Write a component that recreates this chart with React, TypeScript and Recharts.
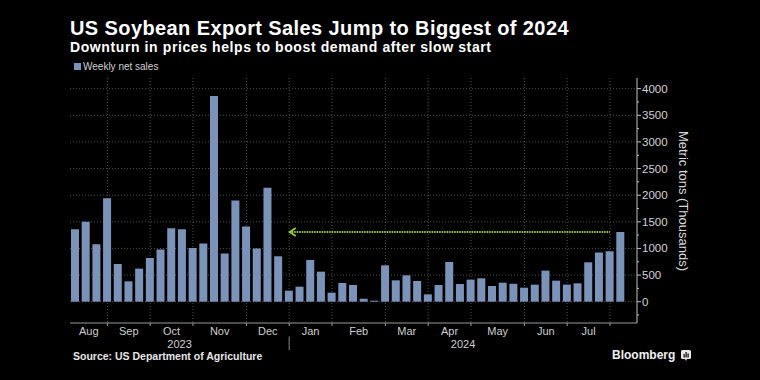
import React from "react";
import { Bar, BarChart, CartesianGrid, ReferenceDot, ReferenceLine, XAxis, YAxis } from "recharts";

// week ending dates, Aug 2023 - Aug 2024
const weeks = [
  "Aug 17", "Aug 24", "Aug 31", "Sep 7", "Sep 14", "Sep 21", "Sep 28",
  "Oct 5", "Oct 12", "Oct 19", "Oct 26", "Nov 2", "Nov 9", "Nov 16", "Nov 23", "Nov 30",
  "Dec 7", "Dec 14", "Dec 21", "Dec 28", "Jan 4", "Jan 11", "Jan 18", "Jan 25",
  "Feb 1", "Feb 8", "Feb 15", "Feb 22", "Feb 29", "Mar 7", "Mar 14", "Mar 21", "Mar 28",
  "Apr 4", "Apr 11", "Apr 18", "Apr 25", "May 2", "May 9", "May 16", "May 23", "May 30",
  "Jun 6", "Jun 13", "Jun 20", "Jun 27", "Jul 4", "Jul 11", "Jul 18", "Jul 25", "Aug 1", "Aug 8",
];

// weekly net sales, thousand metric tons
const netSales = [
  1360, 1500, 1078, 1944, 708, 382, 621, 821, 978, 1379, 1360, 1009, 1091, 3862, 903, 1900,
  1411, 997, 2138, 853, 207, 282, 784, 564, 169, 351, 313, 56, 19, 683, 401, 495, 389, 138,
  313, 746, 332, 414, 439, 295, 357, 339, 263, 320, 583, 395, 320, 345, 740, 922, 947, 1310,
];

// first week of each month -> label of the month that ends there
const monthStarts = ["Sep 7", "Oct 5", "Nov 2", "Dec 7", "Jan 4", "Feb 1", "Mar 7", "Apr 4", "May 2", "Jun 6", "Jul 4", "Aug 1"];
const monthNames = ["Aug", "Sep", "Oct", "Nov", "Dec", "Jan", "Feb", "Mar", "Apr", "May", "Jun", "Jul"];
const yearNames = ["2023", "2024"];

const yTicks = [-250, 0, 250, 500, 750, 1000, 1250, 1500, 1750, 2000, 2250, 2500, 2750, 3000, 3250, 3500, 3750, 4000];
const gridValues = [0, 500, 1000, 1500, 2000, 2500, 3000, 3500, 4000];

// latest week, arrow back to start of 2024
const latestLevel = 1310;
const arrowFrom = "Jan 4";
const arrowTo = "Aug 1";

const data = weeks.map((w, i) => ({ week: w, sales: netSales[i] }));

const BAR = "#7b93b9";
const GREEN = "#9acd32";
const FONT = "'Liberation Sans', Arial, sans-serif";
const PLOT_L = 70;
const PLOT_R = 637;
const BAND = (PLOT_R - PLOT_L - 11) / weeks.length;

function MonthTick(props: any) {
  const { x, y, payload } = props;
  const i = monthStarts.indexOf(payload.value);
  const idx = weeks.indexOf(payload.value);
  const prev = i <= 0 ? -0.5 : weeks.indexOf(monthStarts[i - 1]);
  const band = payload.offset ? payload.offset * 2 : BAND;
  const lx = x - ((idx - prev) / 2) * band;
  const yearSplit = payload.value === arrowFrom;
  return (
    <g>
      <line x1={x} x2={x} y1={y} y2={y + 3} stroke="#9a9a9a" />
      <text x={lx} y={y + 11.5} textAnchor="middle" fill="#cfcfcf" fontSize={11} fontFamily={FONT}>
        {monthNames[i]}
      </text>
      {yearSplit && (
        <>
          <line x1={x} x2={x} y1={y + 13.5} y2={y + 27} stroke="#8a8a8a" />
          <text x={(PLOT_L + x) / 2} y={y + 24.5} textAnchor="middle" fill="#cfcfcf" fontSize={11} fontFamily={FONT}>
            {yearNames[0]}
          </text>
          <text x={(x + PLOT_R) / 2} y={y + 24.5} textAnchor="middle" fill="#cfcfcf" fontSize={11} fontFamily={FONT}>
            {yearNames[1]}
          </text>
        </>
      )}
    </g>
  );
}

function TonTick(props: any) {
  const { x, y, payload } = props;
  const major = payload.value % 500 === 0;
  return (
    <g>
      <line x1={x} x2={x + (major ? 4 : 2)} y1={y} y2={y} stroke="#c4c4c4" />
      {major && (
        <text x={x + 5} y={y + 4} fill="#d4d4d4" fontSize={11.5} fontFamily={FONT}>
          {payload.value}
        </text>
      )}
    </g>
  );
}

function ArrowHead(p: any) {
  return (
    <path
      d={`M${p.cx + 6.5},${p.cy - 4} L${p.cx + 0.5},${p.cy} L${p.cx + 6.5},${p.cy + 4}`}
      fill="none"
      stroke={GREEN}
      strokeWidth={1.8}
    />
  );
}

export default function App() {
  return (
    <div
      style={{
        position: "absolute",
        left: 0,
        top: 0,
        width: 760,
        height: 380,
        background: "#000",
        overflow: "hidden",
        fontFamily: FONT,
        color: "#fff",
      }}
    >
      <div
        style={{
          position: "absolute",
          left: 70,
          top: 18,
          height: 20,
          lineHeight: "20px",
          fontSize: 20,
          letterSpacing: 0.4,
          fontWeight: 700,
          whiteSpace: "nowrap",
        }}
      >
        US Soybean Export Sales Jump to Biggest of 2024
      </div>
      <div
        style={{
          position: "absolute",
          left: 70,
          top: 39.8,
          height: 14,
          lineHeight: "14px",
          fontSize: 14,
          letterSpacing: 0.6,
          fontWeight: 700,
          whiteSpace: "nowrap",
        }}
      >
        Downturn in prices helps to boost demand after slow start
      </div>
      <div style={{ position: "absolute", left: 74, top: 61, display: "flex", alignItems: "center", fontSize: 10, color: "#cfcfcf" }}>
        <span style={{ width: 7, height: 7, background: BAR, marginRight: 2, display: "inline-block" }} />
        Weekly net sales
      </div>

      <div style={{ position: "absolute", left: 0, top: 0 }}>
        <BarChart width={760} height={380} data={data} margin={{ top: 78, right: 63, bottom: 27, left: 70 }}>
          <CartesianGrid stroke="#505050" strokeDasharray="1 2" horizontalValues={gridValues} verticalValues={monthStarts} />
          <XAxis
            dataKey="week"
            type="category"
            ticks={monthStarts}
            interval={0}
            height={30}
            padding={{ left: 0, right: 11 }}
            axisLine={{ stroke: "#9a9a9a" }}
            tickLine={false}
            tickSize={0}
            tickMargin={0}
            tick={<MonthTick />}
          />
          <YAxis
            orientation="right"
            type="number"
            domain={[-400, 4200]}
            ticks={yTicks}
            interval={0}
            allowDataOverflow
            width={60}
            axisLine={{ stroke: "#c4c4c4" }}
            tickLine={false}
            tickSize={0}
            tickMargin={0}
            tick={<TonTick />}
          />
          <Bar dataKey="sales" fill={BAR} barSize={8} isAnimationActive={false} />
          <ReferenceLine
            segment={[{ x: arrowFrom, y: latestLevel }, { x: arrowTo, y: latestLevel }]}
            stroke={GREEN}
            strokeWidth={2}
            strokeDasharray="1.5 1"
          />
          <ReferenceDot x={arrowFrom} y={latestLevel} shape={ArrowHead} />
        </BarChart>
      </div>

      <div
        style={{
          position: "absolute",
          left: 583,
          top: 193,
          width: 200,
          height: 16,
          lineHeight: "16px",
          textAlign: "center",
          fontSize: 13,
          color: "#dcdcdc",
          transform: "rotate(90deg)",
          whiteSpace: "nowrap",
        }}
      >
        Metric tons (Thousands)
      </div>

      <div style={{ position: "absolute", left: 73, top: 350, fontSize: 10.5, fontWeight: 700, color: "#e6e6e6", whiteSpace: "nowrap" }}>
        Source: US Department of Agriculture
      </div>
      <div style={{ position: "absolute", left: 612, top: 348, display: "flex", alignItems: "center", whiteSpace: "nowrap" }}>
        <span style={{ fontSize: 12, fontWeight: 700, color: "#f0f0f0" }}>Bloomberg</span>
        <svg width={10} height={11} style={{ marginLeft: 6 }}>
          <path d="M0,1.5 Q0,0 1.5,0 L8.5,0 Q10,0 10,1.5 L10,7.5 Q10,9 8.5,9 L6,9 L5,11 L4,9 L1.5,9 Q0,9 0,7.5 Z" fill="#e8e8e8" />
          <rect x={2.5} y={4} width={1.2} height={3.5} fill="#000" />
          <rect x={4.5} y={2} width={1.2} height={5.5} fill="#000" />
          <rect x={6.5} y={3.5} width={1.2} height={4} fill="#000" />
        </svg>
      </div>
    </div>
  );
}
